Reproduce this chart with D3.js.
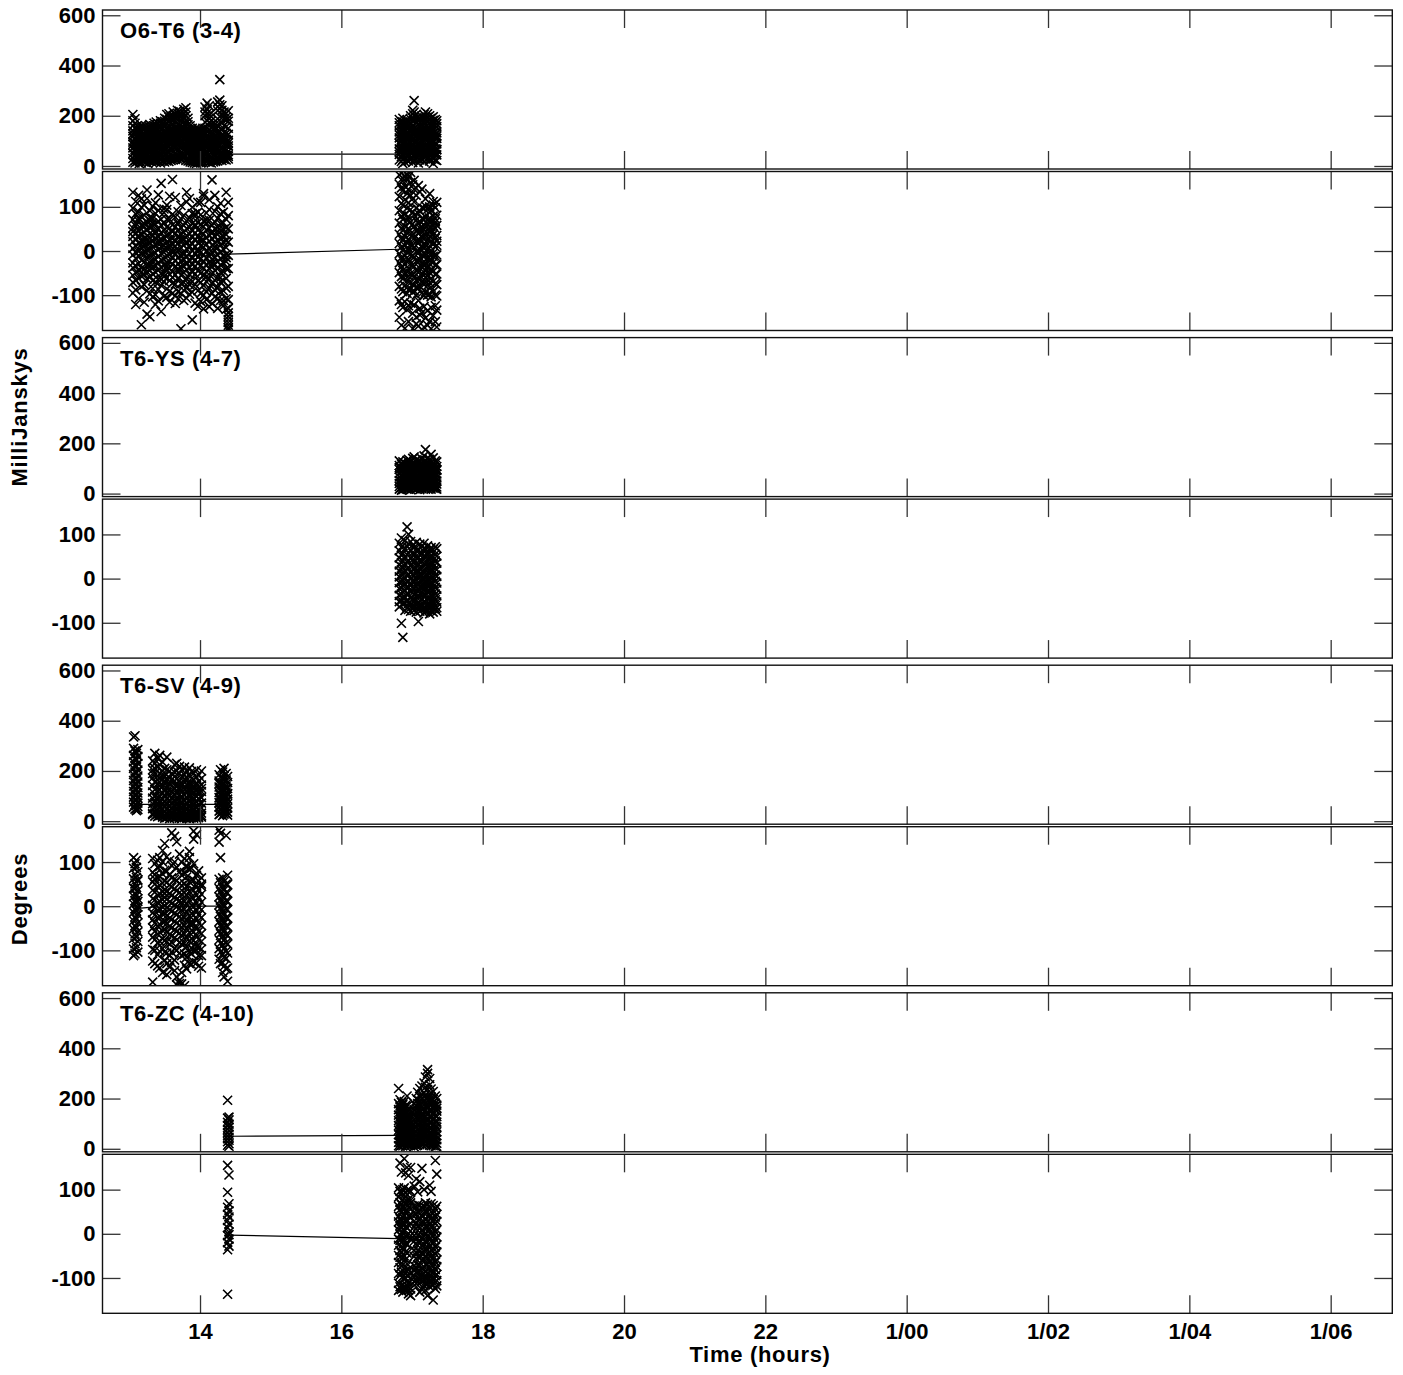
<!DOCTYPE html>
<html>
<head>
<meta charset="utf-8">
<script src="https://cdn.jsdelivr.net/npm/d3@7"></script>
<style>
body { margin: 0; background: #fff; }
text { font-family: "Liberation Sans", Arial, sans-serif; font-weight: bold; fill: #000; }
</style>
</head>
<body>
<svg id="chart" width="1403" height="1375"></svg>
<script>
// each row: [time (hours), value, value, ...]
let o6t6AmpA = [
  [13.05,205,180,160,140,118,95,72,50,30,15,128,86],
  [13.08,188,150,132,110,90,66,44,22,170,104,58,12],
  [13.11,160,142,120,98,80,60,38,18,150,112,70,28],
  [13.14,150,128,105,86,64,42,20,140,96,54,30,10],
  [13.17,162,138,116,92,72,48,26,12,154,108,82,36],
  [13.20,155,130,110,90,70,50,30,18,146,100,62,40],
  [13.23,160,136,114,94,74,54,34,14,150,122,84,24],
  [13.26,148,126,104,84,64,44,24,10,138,96,58,32],
  [13.29,165,142,120,98,76,56,36,20,156,110,68,28],
  [13.32,158,134,112,92,70,50,30,16,146,104,80,40],
  [13.35,170,145,122,100,80,58,38,18,160,116,72,26],
  [13.38,175,150,128,104,82,60,40,22,164,118,90,14],
  [13.41,168,144,120,98,78,56,36,20,156,112,70,30],
  [13.44,180,155,130,108,86,64,42,24,170,124,96,12],
  [13.47,176,150,126,102,80,60,38,20,166,118,74,34],
  [13.50,190,162,138,114,90,68,46,26,178,130,100,16],
  [13.53,205,172,146,120,96,72,50,30,186,136,84,20],
  [13.56,208,180,152,126,100,76,54,32,194,140,110,18],
  [13.59,196,170,144,118,94,70,48,28,184,132,88,22],
  [13.62,215,186,158,130,104,80,56,34,200,146,116,24],
  [13.65,205,178,150,124,98,74,52,30,192,138,92,26],
  [13.68,222,195,165,136,108,84,60,38,210,150,122,28],
  [13.71,218,188,160,132,104,80,58,36,204,146,96,30],
  [13.74,200,176,150,124,100,78,56,36,188,136,92,26],
  [13.77,226,196,166,138,110,86,62,40,212,152,126,32],
  [13.80,232,200,170,140,112,86,62,40,215,156,118,22],
  [13.83,190,164,140,116,92,70,50,30,176,126,86,20],
  [13.86,160,138,118,98,78,58,40,22,150,108,70,16],
  [13.89,150,130,112,94,76,58,40,22,142,104,70,14],
  [13.92,145,126,108,90,72,54,36,20,138,100,66,12],
  [13.95,142,124,106,88,70,52,34,18,134,98,62,10],
  [13.98,148,128,110,92,74,56,38,20,140,102,68,14],
  [14.01,140,122,104,86,68,50,32,16,132,96,60,12],
  [14.04,150,130,110,92,74,56,38,20,140,104,66,16],
  [14.07,235,200,175,150,125,100,76,52,30,215,88,20],
  [14.10,250,210,180,150,122,96,72,48,28,225,110,18],
  [14.13,240,205,172,145,118,92,68,44,26,190,130,14],
  [14.16,210,180,150,124,100,78,56,34,196,108,70,12],
  [14.19,172,148,124,102,82,62,44,24,160,114,74,16],
  [14.22,168,146,122,100,80,60,42,22,156,110,72,18],
  [14.25,255,220,188,158,130,104,80,56,34,236,116,20],
  [14.28,344,262,228,196,164,136,108,82,58,36,244,24],
  [14.31,240,205,172,146,120,96,72,50,30,222,108,22],
  [14.34,215,188,160,134,110,88,66,44,26,200,100,36],
  [14.37,210,182,156,130,106,84,62,42,24,195,96,40],
  [14.40,220,178,150,126,102,80,58,38,28,190,92,44]
];
let o6t6AmpB = [
  [16.82,185,160,136,112,90,68,46,24,172,124,56],
  [16.85,175,150,128,104,82,60,38,18,162,116,70],
  [16.87,190,162,138,114,92,70,48,26,176,126,10],
  [16.90,170,146,124,100,80,58,36,16,158,112,66],
  [16.93,180,154,130,108,86,64,42,22,166,120,74],
  [16.95,176,150,126,104,84,62,40,20,164,114,72],
  [16.98,200,172,146,120,96,74,50,28,186,134,60],
  [17.01,222,190,160,132,106,80,56,32,208,146,14],
  [17.03,260,215,180,150,122,96,70,46,24,200,136],
  [17.06,205,176,148,122,98,74,50,28,190,138,62],
  [17.09,190,164,140,116,92,70,48,26,178,128,12],
  [17.11,186,160,136,112,90,68,46,24,174,124,58],
  [17.14,194,166,140,116,94,72,50,28,180,130,64],
  [17.17,205,178,152,126,100,76,54,32,192,140,16],
  [17.19,215,182,154,128,104,80,56,34,196,144,66],
  [17.22,208,180,152,126,102,78,54,30,194,138,60],
  [17.25,200,172,146,120,96,74,50,28,186,134,20],
  [17.27,190,164,140,116,92,70,48,26,178,128,62],
  [17.30,196,168,142,118,94,72,50,28,182,132,10],
  [17.33,185,160,136,112,90,68,46,24,172,124,56],
  [17.35,180,156,132,110,88,66,44,22,168,120,64]
];
let o6t6PhA = [
  [13.05,133,97,71,52,33,21,6,-9,-27,-38,-55,-71,-95,44],
  [13.09,112,84,63,40,26,11,-3,-17,-34,-49,-66,-88,-121,57],
  [13.13,126,89,68,46,31,18,-1,-12,-29,-44,-61,-108,35,74],
  [13.17,99,77,58,37,23,8,-6,-21,-39,-57,-81,-167,118,15],
  [13.21,104,81,55,43,28,13,-8,-25,-41,-53,-76,-116,62,-2],
  [13.25,138,66,49,34,16,2,-14,-31,-47,-63,-90,-143,119,27],
  [13.29,91,69,53,39,19,4,-11,-26,-44,-59,-97,-149,-33,76],
  [13.33,101,74,57,35,24,9,-7,-22,-36,-52,-85,-104,63,-67],
  [13.37,85,61,45,29,14,-4,-19,-33,-48,-70,-99,-121,109,40],
  [13.41,92,67,50,31,17,3,-13,-28,-43,-65,-87,-113,127,22],
  [13.45,153,58,41,27,10,-5,-20,-37,-51,-64,-78,-137,19,72],
  [13.49,87,63,47,30,12,-3,-18,-32,-50,-69,-103,95,-58,5],
  [13.53,94,72,54,36,20,6,-10,-27,-42,-61,-86,-105,104,-35],
  [13.57,71,52,39,25,8,-8,-24,-39,-53,-67,-91,124,-116,14],
  [13.61,83,59,44,28,15,-2,-16,-30,-47,-73,-96,45,-60,162],
  [13.65,77,55,40,22,11,-6,-21,-35,-54,-75,-101,121,-119,1],
  [13.69,89,65,48,33,18,2,-15,-29,-45,-63,-92,-108,61,-40],
  [13.73,73,53,37,24,7,-9,-23,-38,-55,-74,-96,103,-176,29],
  [13.77,81,58,42,26,13,-4,-19,-34,-49,-71,-89,-112,27,-8],
  [13.81,133,68,51,35,21,5,-12,-26,-43,-63,-84,-107,111,-30],
  [13.85,75,54,38,23,9,-7,-22,-36,-53,-76,-98,119,-69,12],
  [13.89,85,62,46,31,16,0,-17,-31,-48,-69,-93,-156,99,-45],
  [13.93,79,56,41,27,10,-5,-20,-34,-52,-76,-118,84,-21,60],
  [13.97,88,64,47,32,18,3,-14,-29,-45,-67,-90,-125,110,-2],
  [14.01,82,60,43,29,12,-3,-18,-33,-50,-71,-96,-114,110,22],
  [14.05,130,55,39,25,9,-8,-23,-38,-56,-78,-100,124,-131,68],
  [14.09,86,63,48,30,15,-1,-16,-31,-47,-69,-92,-110,70,-58],
  [14.13,94,70,52,36,22,5,-11,-27,-40,-62,-84,-126,116,-4],
  [14.17,161,58,43,28,13,-3,-19,-35,-52,-74,-96,-119,40,-28],
  [14.21,90,66,50,33,19,1,-14,-30,-44,-66,-88,-104,126,9],
  [14.25,100,74,54,38,24,7,-9,-24,-38,-60,-82,-130,-108,46],
  [14.29,84,62,46,30,14,-2,-17,-32,-48,-70,-92,-112,108,-60],
  [14.33,88,64,49,34,20,4,-12,-27,-46,-68,-90,-112,-124,31],
  [14.37,133,72,53,37,23,8,-8,-24,-40,-62,-84,-108,-132,-15],
  [14.40,110,80,50,20,-10,-40,-80,-110,-130,-140,-148,-155,-162,-168,-174,-178]
];
let o6t6PhB = [
  [16.82,172,151,123,91,63,38,17,-6,-27,-49,-80,-113,-150],
  [16.85,176,143,108,79,52,30,9,-15,-36,-58,-86,-121,-168],
  [16.87,165,137,104,72,47,24,1,-22,-44,-63,-92,-128,158],
  [16.90,170,146,116,83,56,33,12,-11,-31,-54,-79,-115,-175],
  [16.93,161,130,97,69,42,19,-3,-25,-47,-68,-96,-133,174],
  [16.95,168,139,109,77,50,27,6,-18,-39,-57,-88,-124,-160],
  [16.98,155,126,94,66,39,15,-7,-29,-51,-72,-86,-118,178],
  [17.01,150,119,88,61,35,13,-10,-32,-54,-75,-94,-141,-176],
  [17.03,140,111,81,55,29,8,-14,-35,-59,-78,-90,-122,160],
  [17.06,126,97,70,46,21,-2,-23,-44,-66,-83,-100,-150,-165],
  [17.09,148,85,62,41,18,-4,-25,-48,-64,-84,-112,-170,27],
  [17.11,134,91,67,44,24,3,-19,-39,-61,-80,-130,-145,52],
  [17.14,98,73,53,32,11,-9,-28,-51,-70,-95,-140,140,-35],
  [17.17,96,71,49,27,6,-13,-33,-55,-76,-101,-126,-172,17],
  [17.19,102,77,56,36,15,-6,-27,-45,-68,-93,-152,118,-60],
  [17.22,94,69,47,25,3,-17,-37,-57,-78,-100,-135,-168,40],
  [17.25,100,75,54,33,12,-8,-29,-49,-72,-98,-160,130,-20],
  [17.27,92,67,45,23,1,-20,-41,-62,-82,-104,-128,-176,55],
  [17.30,104,79,57,37,16,-5,-26,-46,-69,-92,-146,112,-12],
  [17.33,98,73,51,29,9,-12,-32,-53,-74,-100,-124,-160,66],
  [17.35,110,81,58,35,13,-9,-31,-52,-76,-102,-134,-172,22]
];
let t6ysAmp = [
  [16.82,130,112,96,80,66,52,40,28,18,104],
  [16.85,118,102,88,74,60,48,36,24,14,92],
  [16.87,126,110,94,78,64,50,38,26,16,100],
  [16.90,122,106,90,76,62,48,36,24,20,84],
  [16.93,132,114,98,82,68,54,42,30,18,108],
  [16.95,136,118,100,84,70,56,42,30,20,110],
  [16.98,128,112,96,80,66,52,40,28,16,104],
  [17.01,140,120,102,86,70,56,44,32,22,112],
  [17.03,146,124,106,88,72,58,44,32,20,116],
  [17.06,134,116,98,82,68,54,40,28,18,106],
  [17.09,130,112,96,80,66,52,40,28,24,100],
  [17.11,128,110,94,78,64,50,38,26,16,98],
  [17.14,138,118,100,84,70,56,42,30,20,108],
  [17.17,150,126,106,88,72,58,44,32,22,114],
  [17.19,175,132,110,90,74,58,44,30,18,120],
  [17.22,140,120,102,86,70,56,42,30,20,110],
  [17.25,136,116,98,82,68,54,40,28,26,104],
  [17.27,156,124,104,86,70,56,42,30,18,112],
  [17.30,142,120,102,84,68,54,40,28,22,108],
  [17.33,130,112,96,80,66,52,40,28,20,100],
  [17.35,126,108,92,78,64,50,38,26,18,96]
];
let t6ysPh = [
  [16.82,80,63,47,31,17,4,-9,-23,-38,-52,-64],
  [16.85,92,71,53,36,20,6,-8,-21,-35,-50,-101],
  [16.87,74,57,41,26,12,-3,-16,-30,-43,-57,-133],
  [16.90,86,67,49,33,18,2,-12,-27,-41,-55,-72],
  [16.93,117,73,54,38,22,8,-7,-19,-33,-49,-66],
  [16.95,100,79,58,40,24,9,-6,-20,-36,-56,-70],
  [16.98,84,65,47,30,14,-1,-15,-29,-44,-58,-74],
  [17.01,76,59,43,28,11,-4,-18,-32,-47,-61,-68],
  [17.03,70,53,37,21,7,-8,-22,-37,-51,-63,-72],
  [17.06,82,63,46,29,13,-2,-17,-33,-48,-60,-76],
  [17.09,66,49,34,19,4,-10,-24,-39,-54,-66,-97],
  [17.11,78,59,42,25,10,-5,-19,-34,-50,-62,-74],
  [17.14,72,55,39,24,8,-6,-21,-36,-49,-63,-70],
  [17.17,80,61,44,28,12,-3,-18,-35,-52,-65,-78],
  [17.19,68,51,36,20,5,-9,-23,-37,-53,-67,-74],
  [17.22,74,57,41,26,9,-4,-17,-31,-46,-60,-70],
  [17.25,64,47,31,17,2,-13,-27,-42,-56,-69,-80],
  [17.27,70,53,38,22,7,-7,-22,-36,-50,-63,-72],
  [17.30,66,49,33,18,3,-11,-26,-40,-55,-68,-76],
  [17.33,72,55,40,23,8,-6,-20,-35,-48,-61,-68],
  [17.35,68,51,35,20,5,-10,-24,-39,-53,-66,-74]
];
let t6svAmp = [
  [13.06,335,290,262,236,210,186,162,140,118,96,76,56],
  [13.08,340,280,250,222,196,172,150,128,106,86,66,48],
  [13.10,270,244,218,192,168,146,124,104,84,64,50,42],
  [13.12,285,258,230,204,180,156,134,112,92,72,58,46],
  [13.33,240,205,172,142,116,92,70,50,30,190,26],
  [13.36,270,230,190,156,126,98,74,52,32,210,20],
  [13.40,250,215,180,150,122,96,72,50,28,165,18],
  [13.43,262,225,188,154,124,98,74,52,30,140,22],
  [13.47,235,200,168,138,112,88,66,46,26,180,16],
  [13.50,210,180,152,126,102,80,60,40,22,160,12],
  [13.53,255,205,170,140,114,90,68,48,28,130,14],
  [13.57,200,172,146,122,100,78,58,38,20,150,10],
  [13.60,190,165,140,116,94,74,54,36,18,120,14],
  [13.64,225,195,160,132,106,84,62,42,22,178,12],
  [13.67,230,200,168,138,110,86,64,44,24,150,16],
  [13.71,218,190,160,132,106,82,60,40,20,124,12],
  [13.74,205,178,150,124,100,78,58,38,18,140,10],
  [13.78,215,185,155,128,104,80,58,38,20,168,14],
  [13.81,200,172,146,120,96,74,54,34,16,130,12],
  [13.85,212,182,152,126,100,78,56,36,18,146,10],
  [13.88,198,170,144,118,94,72,52,32,14,124,16],
  [13.91,190,164,140,116,92,70,50,30,12,110,18],
  [13.95,205,175,148,122,98,76,54,34,16,138,12],
  [13.98,185,160,136,112,90,68,48,30,14,120,20],
  [14.02,200,170,144,118,94,72,52,32,16,130,22],
  [14.27,185,160,136,114,94,74,56,40,26,150],
  [14.29,205,176,150,126,104,82,62,44,30,120],
  [14.32,196,168,142,118,96,76,56,40,22,100],
  [14.34,210,180,152,126,104,82,62,44,28,166],
  [14.37,190,164,140,116,96,76,58,42,30,130],
  [14.39,178,154,130,108,88,70,52,36,24,110]
];
let t6svPh = [
  [13.06,110,86,62,41,22,5,-14,-33,-52,-73,-97,-112],
  [13.08,96,73,51,30,13,-6,-24,-44,-63,-85,-108,40],
  [13.10,88,65,43,24,7,-11,-30,-49,-70,-94,104,-4],
  [13.12,78,57,35,17,-2,-19,-38,-58,-80,-104,60,11],
  [13.33,108,77,55,36,17,2,-15,-31,-49,-70,-98,-124,-172],
  [13.36,96,71,50,32,14,-4,-20,-38,-57,-76,-100,-130,62],
  [13.40,104,65,44,25,8,-9,-26,-45,-63,-83,-110,-135,88],
  [13.43,90,67,47,28,11,-6,-23,-41,-59,-79,-102,-140,110],
  [13.47,100,73,52,33,15,-2,-18,-36,-55,-74,-96,-150,126],
  [13.50,142,81,57,37,19,1,-17,-35,-53,-78,-104,-122,30],
  [13.53,112,79,54,34,16,-3,-21,-39,-58,-81,-106,-155,-130],
  [13.57,104,71,48,29,10,-8,-27,-46,-64,-86,-112,-138,72],
  [13.60,92,64,43,24,6,-12,-30,-49,-67,-82,-104,-128,166],
  [13.64,158,100,61,39,20,2,-16,-34,-53,-71,-96,-122,-146],
  [13.67,146,88,58,35,16,-1,-19,-38,-57,-76,-100,-160,-178],
  [13.71,118,78,52,31,12,-5,-24,-43,-61,-82,-106,-175,-168],
  [13.74,100,70,47,27,9,-9,-28,-47,-66,-86,-112,-150,-176],
  [13.78,108,76,51,30,11,-7,-26,-44,-63,-84,-108,-134,-180],
  [13.81,92,66,44,25,5,-13,-32,-51,-71,-92,-116,-142,88],
  [13.85,124,84,55,33,14,-4,-22,-40,-60,-80,-104,-130,110],
  [13.88,86,60,39,20,1,-17,-36,-55,-74,-94,-108,-132,-40],
  [13.91,170,96,59,36,18,-1,-20,-39,-58,-77,-100,-126,152],
  [13.95,162,70,46,26,8,-10,-29,-48,-67,-85,-100,-128,-92],
  [13.98,80,57,37,18,-1,-19,-38,-57,-75,-93,-112,-136,20],
  [14.02,64,45,27,9,-8,-26,-44,-62,-80,-97,-112,-140,50],
  [14.27,172,145,61,40,21,3,-16,-35,-55,-76,-96,-120],
  [14.29,165,110,53,33,14,-4,-23,-42,-62,-84,-104,-130],
  [14.32,64,43,24,6,-12,-31,-50,-69,-88,-108,-128,-150],
  [14.34,56,37,18,-1,-20,-39,-58,-77,-96,-116,-136,-160],
  [14.37,160,50,31,12,-7,-26,-45,-64,-83,-102,-118,-142],
  [14.39,70,49,30,11,-8,-27,-46,-66,-86,-106,-140,-170]
];
let t6zcAmp = [
  [14.39,193,122,105,92,78,64,52,40,28,14],
  [14.41,126,115,98,86,72,58,46,34,20,10],
  [16.81,180,156,134,112,92,74,56,40,26,12,240],
  [16.83,170,148,126,106,88,70,54,38,24,10,195],
  [16.85,185,160,138,116,96,76,58,42,28,14,150],
  [16.87,176,152,130,110,90,72,56,40,26,12,122],
  [16.89,188,162,140,118,98,78,60,44,28,16,100],
  [16.91,172,150,128,108,88,70,54,38,24,10,84],
  [16.93,210,170,144,120,98,78,60,42,26,14,132],
  [16.95,150,128,108,90,72,56,40,26,14,118,64],
  [16.98,100,86,72,58,46,34,22,12,70,40],
  [17.03,180,156,134,114,96,78,62,46,32,18,8,140],
  [17.06,200,172,148,126,106,88,70,54,38,24,12,160],
  [17.08,225,194,166,140,118,98,78,60,44,28,14,180],
  [17.11,240,208,178,150,126,104,84,64,46,30,16,190],
  [17.14,250,216,184,156,130,108,86,66,48,32,18,200],
  [17.17,262,224,190,160,134,110,88,68,50,34,20,206],
  [17.19,245,212,182,154,128,106,84,64,46,30,16,286],
  [17.22,315,236,200,168,140,114,90,70,50,34,20,300],
  [17.25,255,218,186,156,130,106,84,64,46,30,14,280],
  [17.27,238,204,174,148,124,102,82,62,44,28,12,196],
  [17.30,228,196,168,142,118,96,76,58,42,26,12,184],
  [17.33,210,182,156,132,110,90,72,54,38,24,10,170],
  [17.35,200,174,150,128,106,86,68,52,36,22,10,162]
];
let t6zcPh = [
  [14.39,155,94,60,44,30,14,-4,-20,-36,-137],
  [14.41,133,68,52,38,22,4,-12,-28,-2],
  [16.81,104,83,62,40,27,9,-12,-26,-49,-65,-90,-112,-128],
  [16.83,96,71,55,34,19,-1,-15,-38,-53,-77,-94,-120,160],
  [16.85,140,92,66,49,28,13,-6,-27,-42,-66,-88,-118,-126],
  [16.87,100,77,59,37,20,2,-17,-31,-54,-70,-97,-116,-132],
  [16.89,104,81,57,42,23,6,-13,-34,-50,-79,-103,-124,170],
  [16.91,92,69,51,30,16,-5,-22,-41,-58,-83,-100,-122,138],
  [16.93,150,98,73,53,31,14,-3,-24,-44,-68,-95,-126,-118],
  [16.95,100,78,60,40,20,-110,-120,-128,-136,132,-95,-80],
  [16.98,150,96,76,56,36,-4,-12,-125,-140,70,-100,-88],
  [17.03,108,63,49,29,15,-4,-17,-37,-51,-72,-84,-99,-108],
  [17.06,60,44,24,11,-9,-23,-43,-57,-76,-88,-105,-120,124],
  [17.08,66,51,30,17,-3,-18,-38,-52,-71,-86,-101,-110,95],
  [17.11,64,45,32,12,-6,-20,-40,-54,-73,-91,-103,-132,118],
  [17.14,58,40,26,6,-11,-28,-45,-60,-79,-93,-107,-126,148],
  [17.17,62,47,27,13,-5,-24,-39,-58,-75,-90,-104,-118,100],
  [17.19,70,52,35,16,2,-16,-33,-50,-69,-84,-99,-112,-128],
  [17.22,66,49,29,15,-4,-19,-37,-55,-70,-89,-102,-114,-140],
  [17.25,60,41,24,9,-10,-27,-42,-61,-77,-94,-106,-120,110],
  [17.27,68,50,34,17,0,-17,-36,-51,-68,-85,-98,-112,96],
  [17.30,64,46,28,11,-6,-22,-40,-57,-74,-89,-104,-116,-150],
  [17.33,56,38,23,4,-13,-30,-46,-64,-81,-95,-109,-124,166],
  [17.35,62,44,28,9,-7,-25,-41,-59,-74,-92,-106,-118,135]
];

// averaged line segments
let o6t6AmpMean = [[14.40,47],[16.82,47]];
let o6t6PhMean = [[14.40,-7],[16.82,4]];
let t6ysAmpMean = [];
let t6ysPhMean = [];
let t6svAmpMean = [[13.12,67],[13.33,67],[14.02,67],[14.27,67]];
let t6svPhMean = [[13.12,-5],[13.33,-2],[14.02,0],[14.27,0]];
let t6zcAmpMean = [[14.41,50],[16.81,53]];
let t6zcPhMean = [[14.41,-3],[16.81,-11]];

let baselineNames = ["O6-T6 (3-4)", "T6-YS (4-7)", "T6-SV (4-9)", "T6-ZC (4-10)"];
let ampTicks = [0, 200, 400, 600];
let phTicks = [-100, 0, 100];
let timeTicks = [14, 16, 18, 20, 22, 24, 26, 28, 30];

// layout
let plotL = 102.5, plotR = 1392.3;
let firstTop = 10, bStep = 327.6, panelH = 159, phOffset = 161.5;
let fontStack = "'Liberation Sans', Arial, sans-serif";

let svg = d3.select("#chart");
let x = d3.scaleLinear().domain([12.62, 30.872]).range([plotL, plotR]);

function toPoints(rows){
  let pts = [];
  rows.forEach(r => {
    for (let i = 1; i < r.length; i++) pts.push([r[0], r[i]]);
  });
  return pts;
}
function timeLabel(h){
  if (h < 24) return String(h);
  return "1/" + String(h - 24).padStart(2, "0");
}

let baselines = [
  {name: baselineNames[0], amp: o6t6AmpA.concat(o6t6AmpB), ph: o6t6PhA.concat(o6t6PhB), ampMean: o6t6AmpMean, phMean: o6t6PhMean},
  {name: baselineNames[1], amp: t6ysAmp, ph: t6ysPh, ampMean: t6ysAmpMean, phMean: t6ysPhMean},
  {name: baselineNames[2], amp: t6svAmp, ph: t6svPh, ampMean: t6svAmpMean, phMean: t6svPhMean},
  {name: baselineNames[3], amp: t6zcAmp, ph: t6zcPh, ampMean: t6zcAmpMean, phMean: t6zcPhMean}
];

let panelCount = 0;
function drawPanel(top, domain, ticks, rows, mean, isLast, label){
  let id = "clip" + (panelCount++);
  let y = d3.scaleLinear().domain(domain).range([top + panelH, top]);
  let g = svg.append("g");

  g.append("clipPath").attr("id", id)
    .append("rect").attr("x", plotL).attr("y", top).attr("width", plotR - plotL).attr("height", panelH);

  let inner = g.append("g").attr("clip-path", "url(#" + id + ")");

  if (mean.length){
    inner.append("path")
      .datum(mean)
      .attr("d", d3.line().x(d => x(d[0])).y(d => y(d[1])))
      .attr("fill", "none")
      .attr("stroke", "#000")
      .attr("stroke-width", 1.2);
  }

  inner.selectAll(".pt")
    .data(toPoints(rows))
    .join("path")
    .attr("class", "pt")
    .attr("d", "M-4.5,-4.5L4.5,4.5M-4.5,4.5L4.5,-4.5")
    .attr("transform", d => "translate(" + x(d[0]) + "," + y(d[1]) + ")")
    .attr("stroke", "#000")
    .attr("stroke-width", 1.6)
    .attr("fill", "none");

  // axes, ticks pointing inward
  let leftAxis = g.append("g")
    .attr("transform", "translate(" + plotL + ",0)")
    .call(d3.axisLeft(y).tickValues(ticks).tickSizeInner(-18).tickSizeOuter(0).tickPadding(7).tickFormat(d => String(d)));
  leftAxis.selectAll("text").style("font-size", "22px").style("font-family", fontStack).style("font-weight", "bold");

  g.append("g")
    .attr("transform", "translate(" + plotR + ",0)")
    .call(d3.axisRight(y).tickValues(ticks).tickSizeInner(-18).tickSizeOuter(0).tickFormat(""));

  g.append("g")
    .attr("transform", "translate(0," + top + ")")
    .call(d3.axisTop(x).tickValues(timeTicks).tickSizeInner(-18).tickSizeOuter(0).tickFormat(""));

  let bottomAxis = g.append("g")
    .attr("transform", "translate(0," + (top + panelH) + ")")
    .call(d3.axisBottom(x).tickValues(timeTicks).tickSizeInner(-18).tickSizeOuter(0).tickPadding(10)
      .tickFormat(isLast ? timeLabel : ""));
  bottomAxis.selectAll("text").style("font-size", "22px").style("font-family", fontStack).style("font-weight", "bold");

  g.selectAll(".domain").remove();
  g.selectAll(".tick line").attr("stroke", "#333").attr("stroke-width", 1.3);

  g.append("rect")
    .attr("x", plotL).attr("y", top)
    .attr("width", plotR - plotL).attr("height", panelH)
    .attr("fill", "none").attr("stroke", "#111").attr("stroke-width", 1.4);

  if (label){
    g.append("text")
      .attr("x", 120).attr("y", top + 28)
      .style("font-size", "22px")
      .style("letter-spacing", "0.6px")
      .text(label);
  }
}

baselines.forEach((b, i) => {
  let top = firstTop + i * bStep;
  drawPanel(top, [-12, 621], ampTicks, b.amp, b.ampMean, false, b.name);
  drawPanel(top + phOffset, [-180, 180], phTicks, b.ph, b.phMean, i == baselines.length - 1, null);
});

svg.append("text")
  .attr("transform", "translate(27,417) rotate(-90)")
  .attr("text-anchor", "middle")
  .style("font-size", "22px")
  .style("letter-spacing", "0.8px")
  .text("MilliJanskys");

svg.append("text")
  .attr("transform", "translate(27,899) rotate(-90)")
  .attr("text-anchor", "middle")
  .style("font-size", "22px")
  .style("letter-spacing", "0.8px")
  .text("Degrees");

svg.append("text")
  .attr("x", 760).attr("y", 1362)
  .attr("text-anchor", "middle")
  .style("font-size", "22px")
  .style("letter-spacing", "0.7px")
  .text("Time (hours)");
</script>
</body>
</html>
